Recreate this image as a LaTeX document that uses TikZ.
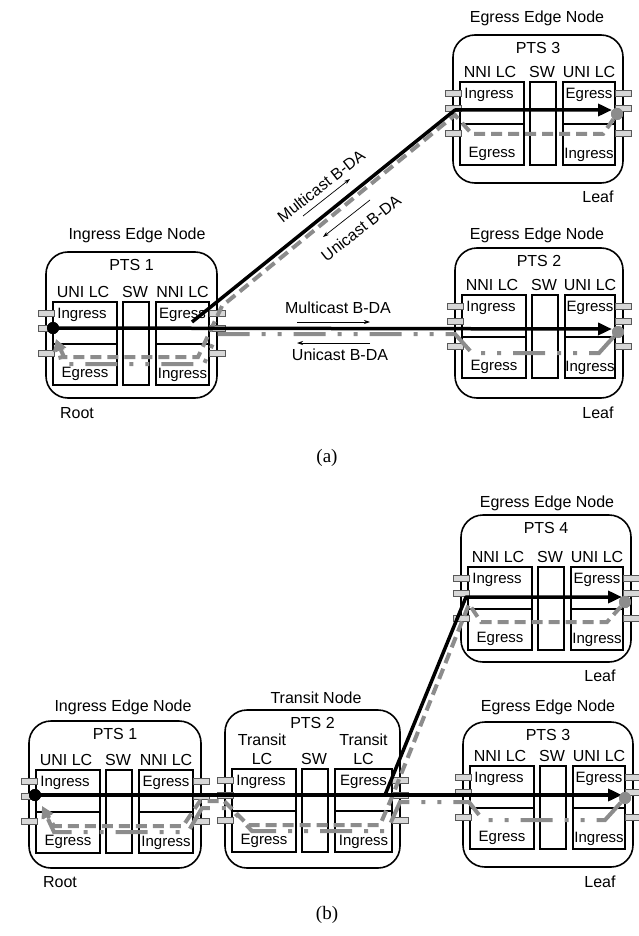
\documentclass[tikz,border=0pt]{standalone}
\usepackage{fontspec}
\setmainfont{Liberation Sans}
\newfontfamily\capfont{Liberation Serif}
\usetikzlibrary{arrows.meta}

\definecolor{pathgray}{RGB}{140,140,140}
\definecolor{portgray}{RGB}{215,215,215}

\tikzset{
  chassis/.style={draw=black, line width=1.6pt, rounded corners=22pt},
  lcbox/.style={draw=black, line width=1.5pt},
  port/.style={draw=black!65, fill=portgray, line width=0.8pt},
  lbl/.style={font=\fontsize{16}{19}\selectfont, inner sep=0pt, align=center},
  io/.style={font=\fontsize{15}{17}\selectfont, inner sep=0pt},
  mcast/.style={draw=black, line width=3.5pt, line join=round},
  ucast/.style={draw=pathgray, line width=4pt, dash pattern=on 11pt off 6pt},
  ucastdd/.style={draw=pathgray, line width=4pt, dash pattern=on 32pt off 12pt on 4pt off 12pt on 4pt off 12pt},
  hint/.style={draw=black, line width=0.7pt, -{Stealth[length=6pt,width=4pt]}},
  bigtip/.style={-{Triangle[length=14pt,width=12pt]}},
  graytip/.style={-{Triangle[length=12pt,width=11pt]}},
  dot/.style={circle, fill, inner sep=0pt, minimum size=12pt},
}

% #1 name, #2 X, #3 Y, #4 width, #5 height, #6 LC top, #7 title, #8 left LC, #9 right LC
\newcommand{\ptsnode}[9]{%
  \draw[chassis] (#2,#3) rectangle ++(#4,#5);
  % line cards and switch
  \draw[lcbox] ({#2+7},{#3+#6}) rectangle ({#2+71},{#3+#6+83});
  \draw[lcbox] ({#2+7},{#3+#6+42}) -- ({#2+71},{#3+#6+42});
  \draw[lcbox] ({#2+77},{#3+#6}) rectangle ({#2+103},{#3+#6+83});
  \draw[lcbox] ({#2+110},{#3+#6}) rectangle ({#2+#4-8},{#3+#6+83});
  \draw[lcbox] ({#2+110},{#3+#6+42}) -- ({#2+#4-8},{#3+#6+42});
  % ports on both sides
  \foreach \py in {11,26,51} {
    \draw[port] ({#2-8},{#3+#6+\py-3}) rectangle ++(16,6);
    \draw[port] ({#2+#4-8},{#3+#6+\py-3}) rectangle ++(16,6);
  }
  % labels
  \node[lbl] (#1-title) at ({#2+#4/2},{#3+13}) {#7};
  \node[lbl, anchor=south] (#1-llc) at ({#2+37},{#3+#6-4}) {#8};
  \node[lbl, anchor=south] (#1-sw) at ({#2+89},{#3+#6-4}) {SW};
  \node[lbl, anchor=south] (#1-rlc) at ({#2+(102+#4)/2},{#3+#6-4}) {#9};
  \node[io] (#1-lin) at ({#2+36},{#3+#6+13}) {Ingress};
  \node[io] (#1-leg) at ({#2+39},{#3+#6+72}) {Egress};
  \node[io] (#1-reg) at ({#2+(102+#4)/2},{#3+#6+13}) {Egress};
  \node[io] (#1-rin) at ({#2+(102+#4)/2},{#3+#6+73}) {Ingress};
}

\begin{document}
\begin{tikzpicture}[x=1pt, y=-1pt]
  \useasboundingbox (0,0) rectangle (639,936);

  % ---------------- (a) ----------------
  \ptsnode{a1}{46}{252}{171}{146}{50}{PTS 1}{UNI LC}{NNI LC}
  \ptsnode{a3}{453}{35}{170}{148}{47}{PTS 3}{NNI LC}{UNI LC}
  \ptsnode{a2}{455}{248}{168}{150}{47}{PTS 2}{NNI LC}{UNI LC}

  \node[lbl] (a1-head) at (137,235) {Ingress Edge Node};
  \node[lbl] (a3-head) at (537,18) {Egress Edge Node};
  \node[lbl] (a2-head) at (537,235) {Egress Edge Node};
  \node[lbl] (a-root) at (77,413) {Root};
  \node[lbl] (a3-leaf) at (598,197) {Leaf};
  \node[lbl] (a2-leaf) at (598,413) {Leaf};

  \node[dot] (a1-root) at (53,328) {};
  \node[dot, pathgray] (a3-dot) at (617,114) {};
  \node[dot, pathgray] (a2-dot) at (618,332) {};
  \coordinate (a1-out) at (192,322);
  \coordinate (a3-in) at (455,110);
  \coordinate (a3-tip) at (612,110);
  \coordinate (a2-tip) at (612,329);
  \coordinate (a1-back) at (56,339);

  % unicast return paths
  \draw[ucast, graytip] (a3-dot) -- (603,134) -- (472,134) -- (455,115)
    -- (222,306) -- (198,357) -- (64,357) -- (a1-back);
  \draw[ucastdd, graytip] (a2-dot) -- (599,353) -- (472,353) -- (455,334)
    -- (217,334) -- (204,364) -- (62,364) -- (a1-back);

  % multicast paths
  \draw[mcast, bigtip] (a1-root.center) -- (a2-tip);
  \draw[mcast, bigtip] (a1-out) -- (a3-in) -- (a3-tip);
  \node[dot] at (a1-root) {};
  \node[dot, pathgray] at (a3-dot) {};
  \node[dot, pathgray] at (a2-dot) {};

  % link labels
  \node[lbl, rotate=38] (mc-diag) at (321,186) {Multicast B-DA};
  \node[lbl, rotate=38] (uc-diag) at (361,228) {Unicast B-DA};
  \coordinate (mc-d1) at (303,216); \coordinate (mc-d2) at (350,179);
  \coordinate (uc-d1) at (370,200); \coordinate (uc-d2) at (323,237);
  \draw[hint] (mc-d1) -- (mc-d2);
  \draw[hint] (uc-d1) -- (uc-d2);

  \node[lbl] (mc-hor) at (338,308) {Multicast B-DA};
  \node[lbl] (uc-hor) at (340,355) {Unicast B-DA};
  \coordinate (mc-h1) at (297,322); \coordinate (mc-h2) at (370,322);
  \coordinate (uc-h1) at (370,343); \coordinate (uc-h2) at (297,343);
  \draw[hint] (mc-h1) -- (mc-h2);
  \draw[hint] (uc-h1) -- (uc-h2);

  \node[font=\capfont\fontsize{19}{22}\selectfont] (cap-a) at (327,458) {(a)};

  % ---------------- (b) ----------------
  \ptsnode{b1}{29}{721}{172}{147}{49}{PTS 1}{UNI LC}{NNI LC}
  \ptsnode{b2}{225}{710}{175}{158}{59}{PTS 2}{Transit\\LC}{Transit\\LC}
  \ptsnode{b4}{461}{515}{170}{147}{52}{PTS 4}{NNI LC}{UNI LC}
  \ptsnode{b3}{463}{722}{170}{145}{44}{PTS 3}{NNI LC}{UNI LC}

  \node[lbl] (b1-head) at (123,707) {Ingress Edge Node};
  \node[lbl] (b2-head) at (316,698) {Transit Node};
  \node[lbl] (b4-head) at (547,503) {Egress Edge Node};
  \node[lbl] (b3-head) at (548,707) {Egress Edge Node};
  \node[lbl] (b-root) at (60,882) {Root};
  \node[lbl] (b4-leaf) at (600,676) {Leaf};
  \node[lbl] (b3-leaf) at (600,882) {Leaf};

  \node[dot] (b1-root) at (35,795) {};
  \node[dot, pathgray] (b4-dot) at (625,602) {};
  \node[dot, pathgray] (b3-dot) at (625,798) {};
  \coordinate (b2-out) at (385,795);
  \coordinate (b4-in) at (466,597);
  \coordinate (b4-tip) at (622,597);
  \coordinate (b3-tip) at (622,795);
  \coordinate (b1-back) at (42,806);

  % unicast return paths
  \draw[ucast, graytip] (b4-dot) -- (607,622) -- (481,622) -- (469,604)
    -- (392,797) -- (380,825) -- (248,825) -- (224,801) -- (200,801)
    -- (183,826) -- (54,826) -- (b1-back);
  \draw[ucastdd, graytip] (b3-dot) -- (605,820) -- (483,820) -- (469,802)
    -- (400,802) -- (387,831) -- (252,831) -- (230,808) -- (202,808)
    -- (188,832) -- (54,832) -- (b1-back);

  % multicast paths
  \draw[mcast, bigtip] (b1-root.center) -- (b3-tip);
  \draw[mcast, bigtip] (b2-out) -- (b4-in) -- (b4-tip);
  \node[dot] at (b1-root) {};
  \node[dot, pathgray] at (b4-dot) {};
  \node[dot, pathgray] at (b3-dot) {};

  \node[font=\capfont\fontsize{19}{22}\selectfont] (cap-b) at (327,915) {(b)};

\end{tikzpicture}
\end{document}
